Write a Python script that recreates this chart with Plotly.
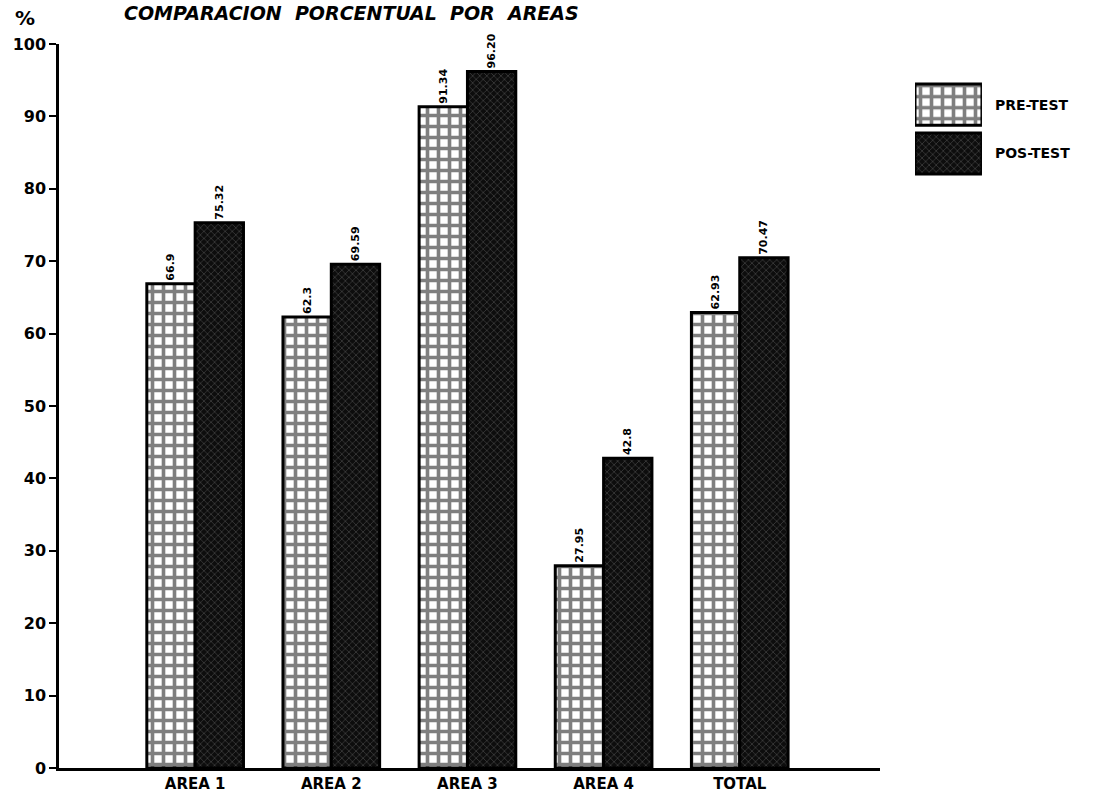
import plotly.graph_objects as go

# Percent scores per area, before and after
areas = ["AREA 1", "AREA 2", "AREA 3", "AREA 4", "TOTAL"]
pre_test = [66.9, 62.3, 91.34, 27.95, 62.93]
pos_test = [75.32, 69.59, 96.20, 42.8, 70.47]
pre_labels = ["66.9", "62.3", "91.34", "27.95", "62.93"]
pos_labels = ["75.32", "69.59", "96.20", "42.8", "70.47"]
y_ticks = [0, 10, 20, 30, 40, 50, 60, 70, 80, 90, 100]

series_names = ["PRE-TEST", "POS-TEST"]

FONT = "DejaVu Sans"
pre_pattern = dict(shape="+", fgcolor="black", bgcolor="white", size=11, solidity=0.55)
pos_pattern = dict(shape="x", fgcolor="#9a9a9a", bgcolor="#0d0d0d", size=5, solidity=0.2)

fig = go.Figure()

fig.add_trace(go.Bar(
    x=areas, y=pre_test, name=series_names[0],
    marker=dict(color="white", line=dict(color="black", width=3), pattern=pre_pattern),
    text=pre_labels, textposition="outside", textangle=-90,
    textfont=dict(family=FONT, size=11, color="black", weight="bold"),
    cliponaxis=False, showlegend=False,
))
fig.add_trace(go.Bar(
    x=areas, y=pos_test, name=series_names[1],
    marker=dict(color="#0d0d0d", line=dict(color="black", width=3), pattern=pos_pattern),
    text=pos_labels, textposition="outside", textangle=-90,
    textfont=dict(family=FONT, size=11, color="black", weight="bold"),
    cliponaxis=False, showlegend=False,
))

# Key drawn as a small auxiliary bar panel on the right
fig.add_trace(go.Bar(
    x=[1], y=[series_names[0]], orientation="h", width=0.84,
    marker=dict(color="white", line=dict(color="black", width=3), pattern=pre_pattern),
    xaxis="x2", yaxis="y2", showlegend=False, hoverinfo="skip",
))
fig.add_trace(go.Bar(
    x=[1], y=[series_names[1]], orientation="h", width=0.84,
    marker=dict(color="#0d0d0d", line=dict(color="black", width=3), pattern=pos_pattern),
    xaxis="x2", yaxis="y2", showlegend=False, hoverinfo="skip",
))

fig.update_layout(
    width=1096, height=803,
    margin=dict(l=59, r=10, t=44, b=35),
    paper_bgcolor="white", plot_bgcolor="white",
    barmode="group", bargap=0.29, bargroupgap=0,
    font=dict(family=FONT, color="black"),
    xaxis=dict(
        domain=[0, 0.7994], range=[-1, 5.03],
        showline=True, linecolor="black", linewidth=3,
        ticks="", showgrid=False, zeroline=False,
        tickfont=dict(family=FONT, size=15, weight="bold"),
    ),
    yaxis=dict(
        range=[0, 100], tickvals=y_ticks,
        showline=True, linecolor="black", linewidth=2.5,
        ticks="outside", ticklen=7, tickwidth=2, tickcolor="black",
        showgrid=False, zeroline=False,
        tickfont=dict(family=FONT, size=16, weight="bold"),
    ),
    xaxis2=dict(
        domain=[0.8335, 0.8987], range=[0, 1], anchor="y2",
        visible=False, fixedrange=True,
    ),
    yaxis2=dict(
        domain=[0.815, 0.950], anchor="x2", side="right",
        categoryorder="array", categoryarray=[series_names[1], series_names[0]],
        showline=False, ticks="", showgrid=False, zeroline=False,
        tickfont=dict(family=FONT, size=14, weight="bold"),
        ticklabelstandoff=12,
    ),
    annotations=[
        dict(text="COMPARACION  PORCENTUAL  POR  AREAS", xref="paper", yref="paper",
             x=0.285, y=1.0608, xanchor="center", yanchor="top", showarrow=False,
             font=dict(family=FONT, size=19, weight="bold", style="italic")),
        dict(text="%", xref="paper", yref="paper", x=-0.033, y=1.036,
             xanchor="center", yanchor="middle", showarrow=False,
             font=dict(family=FONT, size=20, weight="bold")),
    ],
)

fig.write_html("out.html")
